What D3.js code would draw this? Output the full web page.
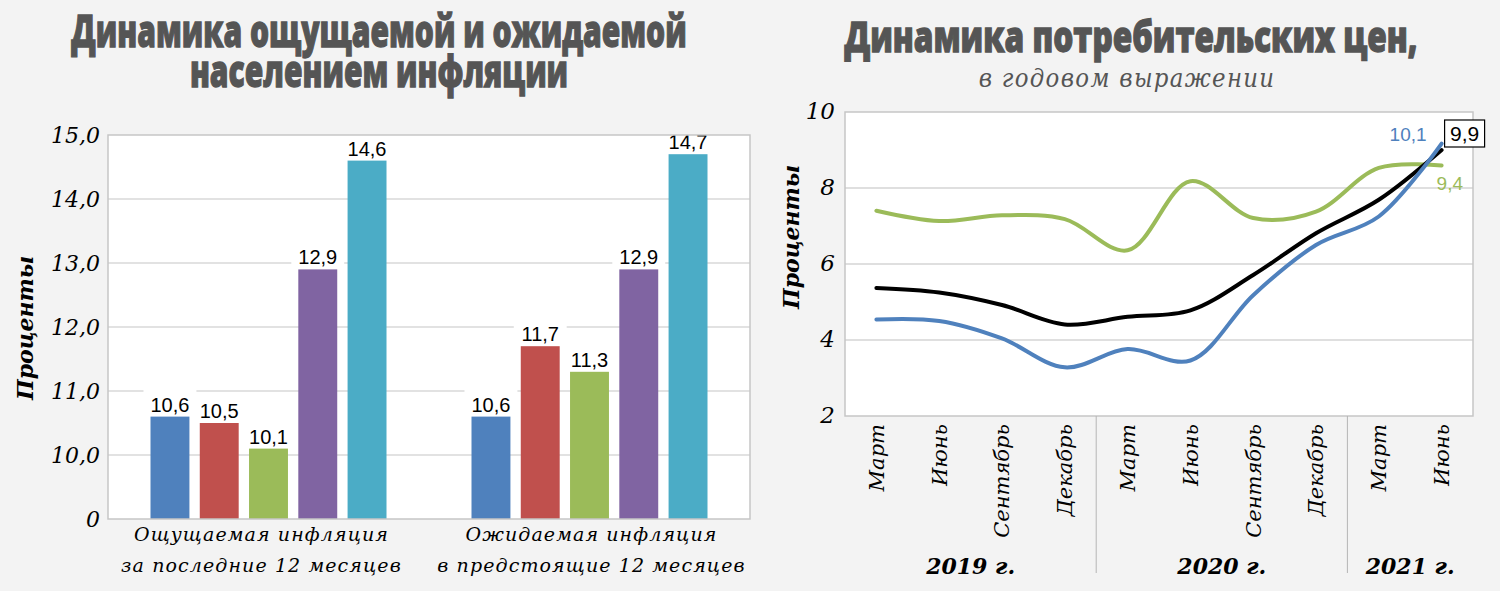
<!DOCTYPE html>
<html>
<head>
<meta charset="utf-8">
<script src="https://cdn.jsdelivr.net/npm/d3@7"></script>
<style>
  html, body { margin: 0; padding: 0; background: #f3f3f3; }
  svg { display: block; }
  .serif { font-family: "DejaVu Serif", "Liberation Serif", serif; font-style: italic; }
  .sans { font-family: "Liberation Sans", Arial, sans-serif; }
  .ttl { font-family: "Open Sans", "DejaVu Sans", sans-serif; font-weight: 800; fill: #555; stroke: #555; stroke-width: 1.3; paint-order: stroke; }
</style>
</head>
<body>
<svg id="chart" width="1500" height="591"></svg>
<script>
// ---- left chart: ощущаемая / ожидаемая инфляция
const barGroups = ["Ощущаемая инфляция|за последние 12 месяцев", "Ожидаемая инфляция|в предстоящие 12 месяцев"];
const barSeries = ["s1", "s2", "s3", "s4", "s5"];
const barValues = [
  [10.6, 10.5, 10.1, 12.9, 14.6],
  [10.6, 11.7, 11.3, 12.9, 14.7]
];
const barColors = ["#4f81bd", "#c0504d", "#9bbb59", "#8064a2", "#4bacc6"];
const barTicks = [9, 10, 11, 12, 13, 14, 15];
const barTickLabels = ["0", "10,0", "11,0", "12,0", "13,0", "14,0", "15,0"];

// ---- right chart: потребительские цены
const months = ["Март", "Июнь", "Сентябрь", "Декабрь", "Март", "Июнь", "Сентябрь", "Декабрь", "Март", "Июнь"];
const years = ["2019 г.", "2020 г.", "2021 г."];
const yearSpans = [[0, 3], [4, 7], [8, 9]];
const greenLine = [7.40, 7.13, 7.28, 7.18, 6.36, 8.18, 7.21, 7.38, 8.53, 8.59];
const blackLine = [5.37, 5.25, 4.92, 4.41, 4.61, 4.78, 5.71, 6.81, 7.69, 9.00];
const blueLine = [4.54, 4.50, 4.04, 3.28, 3.76, 3.46, 5.18, 6.50, 7.25, 9.17];
const lineTicks = [2, 4, 6, 8, 10];
const endLabels = ["10,1", "9,9", "9,4"];

const svg = d3.select("#chart");

// two-line heavy condensed title, squeezed horizontally by a transform
function title(g, lines, cx, y0, size, sx) {
  const t = g.append("text").attr("class", "ttl")
    .attr("transform", `translate(${cx},${y0}) scale(${sx},1)`)
    .attr("text-anchor", "middle")
    .attr("font-size", size);
  t.selectAll("tspan").data(lines).join("tspan")
    .attr("x", 0).attr("y", (d, i) => i * 40)
    .text(d => d);
}

// ================= LEFT =================
const L = { left: 108, right: 750, top: 135, bottom: 519 };
const yL = d3.scaleLinear().domain([9, 15]).range([L.bottom, L.top]);
const x0 = d3.scaleBand().domain(barGroups).range([L.left, L.right]);
const x1 = d3.scaleBand().domain(barSeries).range([0, 236]).paddingInner(0.21);

const gL = svg.append("g");
gL.append("rect")
  .attr("x", L.left).attr("y", L.top)
  .attr("width", L.right - L.left).attr("height", L.bottom - L.top)
  .attr("fill", "#fff");

gL.selectAll("line.grid")
  .data(barTicks.slice(1, -1))
  .join("line")
  .attr("x1", L.left).attr("x2", L.right)
  .attr("y1", d => yL(d)).attr("y2", d => yL(d))
  .attr("stroke", "#d9d9d9").attr("stroke-width", 1.5);

gL.selectAll("text.ytick")
  .data(barTicks)
  .join("text")
  .attr("class", "serif")
  .attr("x", 100).attr("y", d => yL(d))
  .attr("dy", "0.35em")
  .attr("text-anchor", "end")
  .attr("font-size", 22)
  .text((d, i) => barTickLabels[i]);

gL.append("text")
  .attr("class", "serif")
  .attr("transform", `translate(33,${(L.top + L.bottom) / 2 + 1}) rotate(-90)`)
  .attr("text-anchor", "middle")
  .attr("font-size", 22).attr("font-weight", "bold")
  .text("Проценты");

const group = gL.selectAll("g.grp")
  .data(barGroups)
  .join("g")
  .attr("transform", d => `translate(${x0(d) + x0.bandwidth() / 2 - 118},0)`);

const cells = group.selectAll("g.bar")
  .data((d, gi) => barValues[gi].map((v, si) => ({ v, s: barSeries[si], c: barColors[si] })))
  .join("g");

// white label background (hides the gridline behind the value)
cells.append("rect")
  .attr("x", d => x1(d.s) - 7).attr("width", x1.bandwidth() + 14)
  .attr("y", d => Math.max(yL(d.v) - 28, L.top + 1))
  .attr("height", d => yL(d.v) - Math.max(yL(d.v) - 28, L.top + 1))
  .attr("fill", "#fff");

cells.append("rect")
  .attr("x", d => x1(d.s)).attr("width", x1.bandwidth())
  .attr("y", d => yL(d.v)).attr("height", d => yL(9) - yL(d.v))
  .attr("fill", d => d.c);

cells.append("text")
  .attr("class", "sans")
  .attr("x", d => x1(d.s) + x1.bandwidth() / 2)
  .attr("y", d => yL(d.v) - 5)
  .attr("text-anchor", "middle")
  .attr("font-size", 20)
  .text(d => String(d.v).replace(".", ","));

gL.append("rect")
  .attr("x", L.left).attr("y", L.top)
  .attr("width", L.right - L.left).attr("height", L.bottom - L.top)
  .attr("fill", "none").attr("stroke", "#c6c6c6").attr("stroke-width", 1.5);

gL.selectAll("text.cat")
  .data(barGroups)
  .join("text")
  .attr("class", "serif")
  .attr("x", (d, i) => x0(d) + x0.bandwidth() / 2 + (i ? 2 : -7))
  .attr("text-anchor", "middle")
  .attr("font-size", 19)
  .attr("letter-spacing", 1.1)
  .selectAll("tspan")
  .data(d => d.split("|"))
  .join("tspan")
  .attr("x", function () { return d3.select(this.parentNode).attr("x"); })
  .attr("y", (d, i) => 541 + i * 31)
  .text(d => d);

title(gL, ["Динамика ощущаемой и ожидаемой", "населением инфляции"], 379, 47, 45, 0.667);

// ================= RIGHT =================
const R = { left: 845, right: 1473, top: 112, bottom: 416 };
const yR = d3.scaleLinear().domain([2, 10]).range([R.bottom, R.top]);
const xR = d3.scalePoint().domain(d3.range(months.length)).range([R.left, R.right]).padding(0.5);
const step = xR.step();

const gR = svg.append("g");
gR.append("rect")
  .attr("x", R.left).attr("y", R.top)
  .attr("width", R.right - R.left).attr("height", R.bottom - R.top)
  .attr("fill", "#fff");

gR.selectAll("line.grid")
  .data(lineTicks.slice(1, -1))
  .join("line")
  .attr("x1", R.left).attr("x2", R.right)
  .attr("y1", d => yR(d)).attr("y2", d => yR(d))
  .attr("stroke", "#d4d4d4").attr("stroke-width", 1.5);

gR.append("rect")
  .attr("x", R.left).attr("y", R.top)
  .attr("width", R.right - R.left).attr("height", R.bottom - R.top)
  .attr("fill", "none").attr("stroke", "#c6c6c6").attr("stroke-width", 1.5);

gR.selectAll("text.ytick")
  .data(lineTicks)
  .join("text")
  .attr("class", "serif")
  .attr("x", 835).attr("y", d => yR(d))
  .attr("dy", "0.3em")
  .attr("text-anchor", "end")
  .attr("font-size", 23)
  .text(d => d);

gR.append("text")
  .attr("class", "serif")
  .attr("transform", `translate(799,${(R.top + R.bottom) / 2 - 27}) rotate(-90)`)
  .attr("text-anchor", "middle")
  .attr("font-size", 22).attr("font-weight", "bold")
  .text("Проценты");

// month labels
gR.selectAll("text.month")
  .data(months)
  .join("text")
  .attr("class", "serif")
  .attr("transform", (d, i) => `translate(${xR(i)},424) rotate(-90)`)
  .attr("dy", "0.35em")
  .attr("text-anchor", "end")
  .attr("font-size", 21)
  .text(d => d);

// year separators and labels
gR.selectAll("line.sep")
  .data(yearSpans.slice(1))
  .join("line")
  .attr("x1", d => xR(d[0]) - step / 2).attr("x2", d => xR(d[0]) - step / 2)
  .attr("y1", R.bottom).attr("y2", 573)
  .attr("stroke", "#b5b5b5").attr("stroke-width", 1);

gR.selectAll("text.year")
  .data(years)
  .join("text")
  .attr("class", "serif")
  .attr("x", (d, i) => {
    const a = xR(yearSpans[i][0]) - step / 2;
    const b = Math.min(xR(yearSpans[i][1]) + step / 2, R.right);
    return (a + b) / 2;
  })
  .attr("y", 574)
  .attr("text-anchor", "middle")
  .attr("font-size", 22).attr("font-weight", "bold")
  .text(d => d);

const line = d3.line()
  .x((d, i) => xR(i))
  .y(d => yR(d))
  .curve(d3.curveCatmullRom.alpha(0.5));

[[greenLine, "#9bbb59"], [blackLine, "#000"], [blueLine, "#4f81bd"]].forEach(([vals, col]) => {
  gR.append("path")
    .attr("d", line(vals))
    .attr("fill", "none")
    .attr("stroke", col)
    .attr("stroke-width", 4)
    .attr("stroke-linecap", "round");
});

const lastX = xR(months.length - 1);
const last = months.length - 1;

gR.append("text").attr("class", "sans")
  .attr("x", lastX - 15).attr("y", yR(blueLine[last]) - 3)
  .attr("text-anchor", "end").attr("font-size", 19)
  .attr("fill", "#4f81bd")
  .text(endLabels[0]);

const boxY = yR(blackLine[last]) - 30;
gR.append("rect")
  .attr("x", lastX + 3).attr("y", boxY)
  .attr("width", 40).attr("height", 27)
  .attr("fill", "#fff").attr("stroke", "#000").attr("stroke-width", 1.2);
gR.append("text").attr("class", "sans")
  .attr("x", lastX + 23).attr("y", boxY + 21)
  .attr("text-anchor", "middle").attr("font-size", 21)
  .text(endLabels[1]);

gR.append("text").attr("class", "sans")
  .attr("x", lastX - 5).attr("y", yR(greenLine[last]) + 24)
  .attr("font-size", 19)
  .attr("fill", "#9bbb59")
  .text(endLabels[2]);

title(gR, ["Динамика потребительских цен,"], 1131, 52, 43, 0.735);

gR.append("text").attr("class", "serif")
  .attr("transform", "translate(1127,87) scale(0.88,1)")
  .attr("text-anchor", "middle")
  .attr("font-size", 26).attr("letter-spacing", 1.5)
  .attr("fill", "#555")
  .text("в годовом выражении");
</script>
</body>
</html>
